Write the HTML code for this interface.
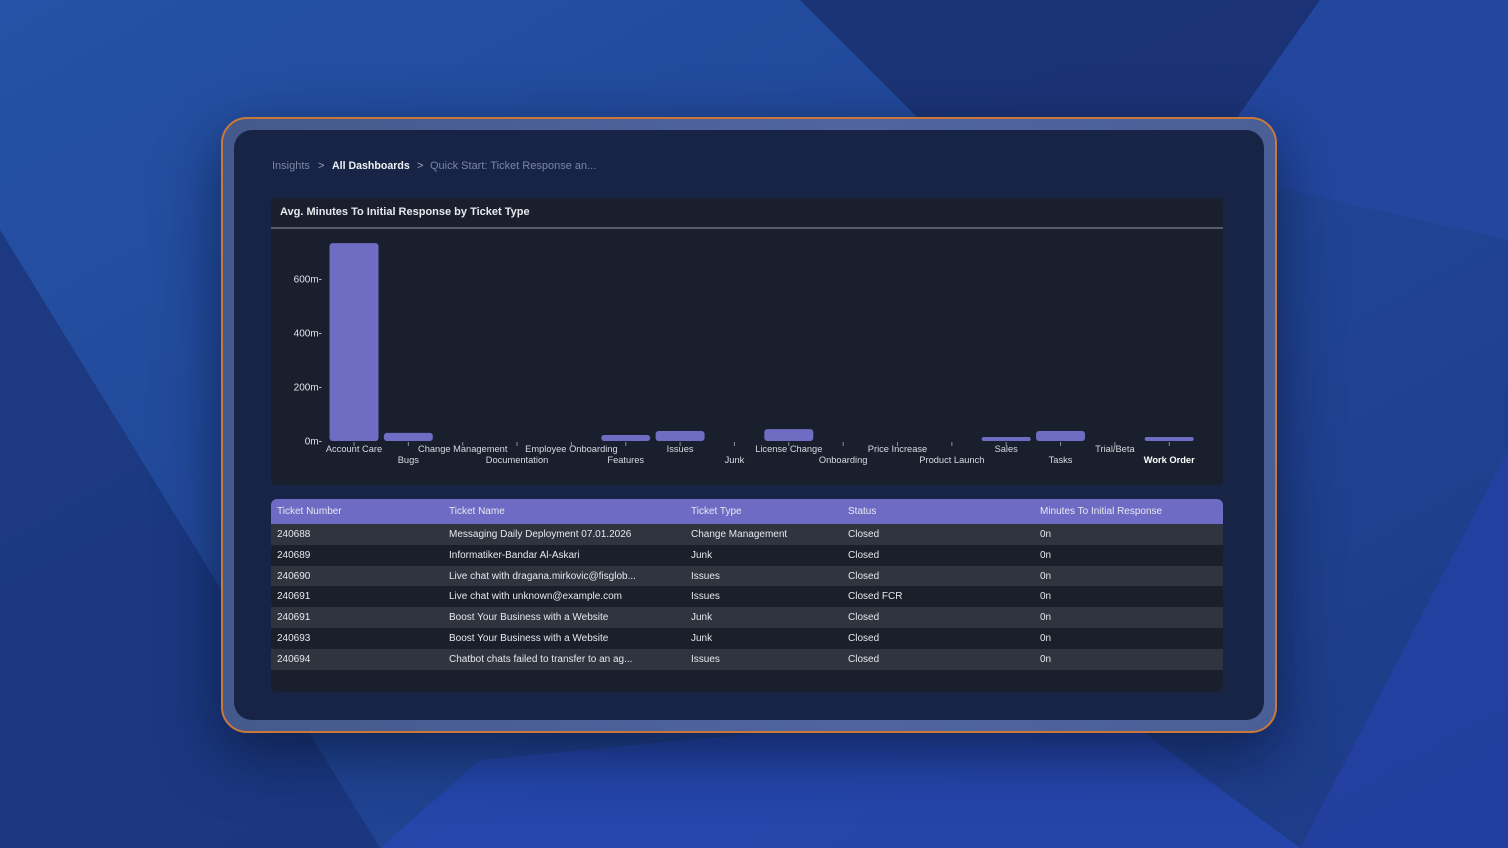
<!DOCTYPE html>
<html><head><meta charset="utf-8"><style>
*{margin:0;padding:0;box-sizing:border-box}
body{width:1508px;height:848px;overflow:hidden;position:relative;font-family:"Liberation Sans",sans-serif;background:#1e3a88}
.abs{position:absolute}
#bg{left:0;top:0}
#bezel{left:221px;top:117px;width:1056px;height:616px;border:2px solid #c9783a;border-radius:26px;background:linear-gradient(90deg,#44598c,#5065a0 60%,#4a5f95);box-shadow:0 20px 60px rgba(5,15,40,.6)}
#screen{left:234px;top:130px;width:1030px;height:590px;border-radius:18px;background:#172445}
.crumb{top:160px;font-size:11px}
#chart{left:271px;top:198px;width:952px;height:287px;background:#191f2c;border-radius:4px}
#chart-title{left:280px;top:206px;font-size:11px;font-weight:bold;color:#e8e8ee}
#table{left:271px;top:499px;width:952px;height:193px;background:#191f2c;border-radius:6px;overflow:hidden;font-size:10px;color:#e8e8ee}
.row{position:absolute;left:0;width:952px;height:21px}
.cell{position:absolute;top:5px;white-space:nowrap}
</style></head><body>
<svg id="bg" class="abs" width="1508" height="848">
<defs><linearGradient id="g1" x1="0" y1="0" x2="1" y2="1"><stop offset="0" stop-color="#2552a6"/><stop offset="1" stop-color="#1d3a86"/></linearGradient></defs>
<rect width="1508" height="848" fill="url(#g1)"/>
<polygon points="800,0 1320,0 1200,170 1000,200" fill="#1a3070" opacity=".85"/>
<polygon points="1320,0 1508,0 1508,240 1200,170" fill="#2347a0" opacity=".9"/>
<polygon points="0,230 0,848 380,848" fill="#1a347a" opacity=".8"/>
<polygon points="480,760 1100,700 1300,848 380,848" fill="#2848b8" opacity=".7"/>
<polygon points="1300,848 1508,848 1508,450" fill="#2540a8" opacity=".7"/>
</svg>
<div id="bezel" class="abs"></div>
<div id="screen" class="abs"></div>
<div class="abs crumb" style="left:272px;color:#7b86a6">Insights</div>
<div class="abs crumb" style="left:318px;color:#9aa3bd">&gt;</div>
<div class="abs crumb" style="left:332px;color:#eef0f6;font-weight:bold;font-size:10.6px">All Dashboards</div>
<div class="abs crumb" style="left:417px;color:#9aa3bd">&gt;</div>
<div class="abs crumb" style="left:430px;color:#7b86a6">Quick Start: Ticket Response an...</div>
<div id="chart" class="abs"></div>
<div id="chart-title" class="abs">Avg. Minutes To Initial Response by Ticket Type</div>
<svg id="plot" class="abs" style="left:0;top:0" width="1508" height="848"></svg>
<div id="table" class="abs"></div>
<script>
const categories=["Account Care","Bugs","Change Management","Documentation","Employee Onboarding","Features","Issues","Junk","License Change","Onboarding","Price Increase","Product Launch","Sales","Tasks","Trial/Beta","Work Order"];
const values=[733,30,0,0,0,22,37,0,44,0,0,0,15,37,0,15];
const yTicks=[0,200,400,600];
const yTickLabels=["0m","200m","400m","600m"];
const NS="http://www.w3.org/2000/svg";
const svg=document.getElementById('plot');
const y0=441,pxPer=162/600,x0=354,step=54.35,bw=49;
const yS=v=>y0-v*pxPer, xS=i=>x0+i*step;
function mk(t,a){const e=document.createElementNS(NS,t);for(const k in a)e.setAttribute(k,a[k]);svg.appendChild(e);return e;}
const ln=mk('line',{x1:271,y1:228,x2:1223,y2:228,stroke:'#6b7080','stroke-width':1.5});


yTicks.forEach((v,i)=>{const t=mk('text',{x:322,y:yS(v)+3.5,'text-anchor':'end',fill:'#e0e2ea','font-size':10,'font-family':'Liberation Sans'});t.textContent=yTickLabels[i]+'-';

});
categories.forEach((c,i)=>{
 const x=xS(i);const h=values[i]*pxPer;
 if(h>0){const r=mk('rect',{x:x-bw/2,y:yS(values[i]),width:bw,height:h,rx:Math.min(3,h/2),fill:'#6f6cc4'});
 
 }
 mk('line',{x1:x,y1:y0+1,x2:x,y2:y0+5,stroke:'#8a8f9c'});
 const t=mk('text',{x:x,y:i%2?463:452,'text-anchor':'middle',fill:i==categories.length-1?'#ffffff':'#d8dae2','font-size':9.3,'font-weight':i==categories.length-1?'bold':'normal','font-family':'Liberation Sans'});
 t.textContent=c;
 
 
});
const headers=["Ticket Number","Ticket Name","Ticket Type","Status","Minutes To Initial Response"];
const colX=[6,178,420,577,769];
const rows=[["240688","Messaging Daily Deployment 07.01.2026","Change Management","Closed","0n"],
["240689","Informatiker-Bandar Al-Askari","Junk","Closed","0n"],
["240690","Live chat with dragana.mirkovic@fisglob...","Issues","Closed","0n"],
["240691","Live chat with unknown@example.com","Issues","Closed FCR","0n"],
["240691","Boost Your Business with a Website","Junk","Closed","0n"],
["240693","Boost Your Business with a Website","Junk","Closed","0n"],
["240694","Chatbot chats failed to transfer to an ag...","Issues","Closed","0n"]];
const tb=document.getElementById('table');
const hd=document.createElement('div');hd.className='row';hd.style.cssText='top:0;height:25px;background:#6e6bc4';


headers.forEach((h,i)=>{const c=document.createElement('div');c.className='cell';c.style.left=colX[i]+'px';c.style.top='7px';c.textContent=h;


hd.appendChild(c);});
tb.appendChild(hd);
rows.forEach((r,ri)=>{const rw=document.createElement('div');rw.className='row';rw.style.top=(25+ri*20.8)+'px';rw.style.background=ri%2?'#1a1f2a':'#2f343e';


r.forEach((v,i)=>{const c=document.createElement('div');c.className='cell';c.style.left=colX[i]+'px';c.textContent=v;


rw.appendChild(c);});tb.appendChild(rw);});
</script>
</body></html>
